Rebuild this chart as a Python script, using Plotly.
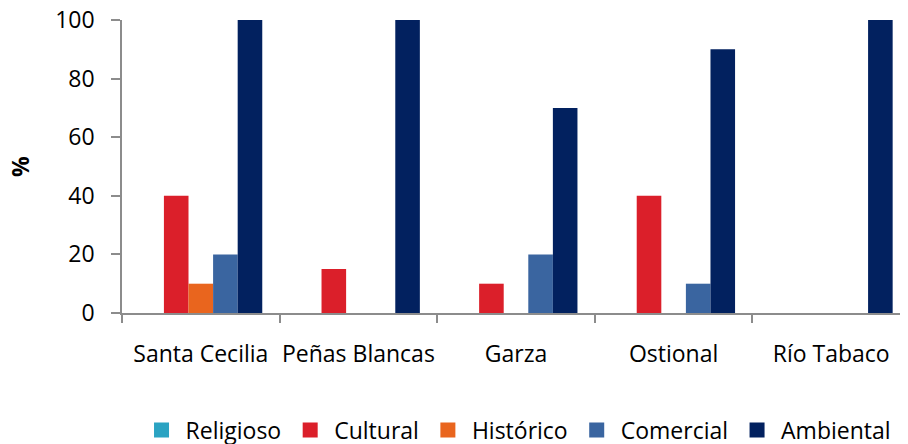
import plotly.graph_objects as go

categories = ["Santa Cecilia", "Peñas Blancas", "Garza", "Ostional", "Río Tabaco"]
religioso = [0, 0, 0, 0, 0]
cultural = [40, 15, 10, 40, 0]
historico = [10, 0, 0, 0, 0]
comercial = [20, 0, 20, 10, 0]
ambiental = [100, 100, 70, 90, 100]

series_names = ["Religioso", "Cultural", "Histórico", "Comercial", "Ambiental"]
series_values = [religioso, cultural, historico, comercial, ambiental]
colors = ["#2BA3C2", "#DB1F2A", "#E9651E", "#3A65A0", "#02215F"]

y_ticks = [0, 20, 40, 60, 80, 100]

FONT = "Open Sans"
FS = 23
fig = go.Figure()
for name, vals, col in zip(series_names, series_values, colors):
    fig.add_trace(go.Bar(x=categories, y=vals, name=name, marker_color=col,
                         marker_line_width=0, showlegend=False, legendgroup=name))
# legend entries with square swatches
for name, col in zip(series_names, colors):
    fig.add_trace(go.Scatter(x=[None], y=[None], mode="markers", name=name,
                             legendgroup=name,
                             marker=dict(symbol="square", size=15, color=col),
                             hoverinfo="skip"))

axis_col = "#8C8C8C"
fig.update_layout(
    width=908, height=444,
    margin=dict(l=114, r=6, t=12, b=139, autoexpand=False),
    paper_bgcolor="white", plot_bgcolor="white",
    barmode="group", bargap=0.22, bargroupgap=0,
    font=dict(family=FONT, size=FS, color="black"),
    showlegend=True,
    legend=dict(orientation="h", xref="container", x=0.5606, xanchor="center",
                yref="container", y=0.0495, yanchor="middle",
                font=dict(family=FONT, size=FS), itemwidth=38, tracegroupgap=0,
                itemsizing="trace"),
    xaxis=dict(showline=True, linecolor=axis_col, linewidth=1.5, ticks="outside",
               tickson="boundaries", ticklen=8, tickcolor=axis_col, tickwidth=1.5,
               showgrid=False, ticklabelstandoff=20, tickfont=dict(size=FS),
               tickangle=0, automargin=False, ticklabeloverflow="allow"),
    yaxis=dict(range=[0, 100], tickvals=y_ticks, showline=True, linecolor=axis_col,
               linewidth=1.5, ticks="outside", ticklen=9, tickcolor=axis_col, tickwidth=1.5,
               showgrid=False, zeroline=False, ticklabelstandoff=12, tickfont=dict(size=FS),
               automargin=False, ticklabeloverflow="allow"),
    annotations=[dict(text="<b>%</b>", xref="paper", yref="paper", x=-0.13, y=0.5,
                      xanchor="center", yanchor="middle",
                      showarrow=False, textangle=-90, font=dict(size=FS, family=FONT))],
)

fig.write_html("out.html")
